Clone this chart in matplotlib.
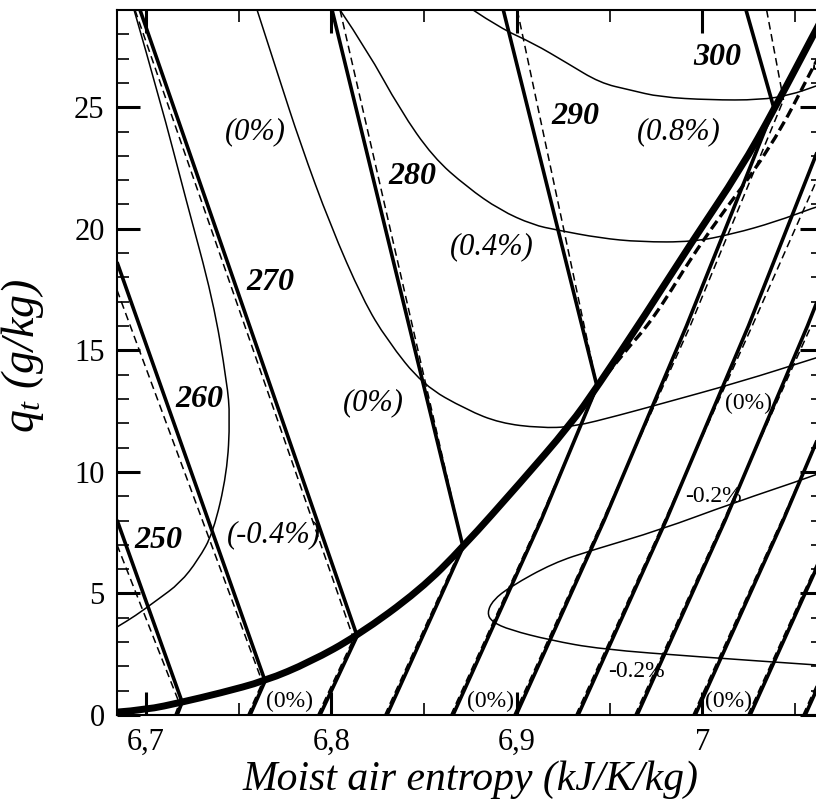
import numpy as np
import matplotlib.pyplot as plt
from matplotlib.path import Path
from matplotlib.patches import PathPatch
from matplotlib.ticker import MultipleLocator, FuncFormatter

plt.rcParams['font.family'] = ['Liberation Serif', 'DejaVu Serif']
plt.rcParams['mathtext.fontset'] = 'custom'
plt.rcParams['mathtext.it'] = 'Liberation Serif:italic'
plt.rcParams['mathtext.rm'] = 'Liberation Serif'

# saturation curve: moist air entropy (kJ/K/kg) vs q_t (g/kg)
sat_s = [6.6845, 6.7000, 6.7196, 6.7400, 6.7643, 6.7885, 6.8139, 6.8478, 6.8710,
         6.9017, 6.9287, 6.9432, 6.9691, 6.9950, 7.0203, 7.0391, 7.0612, 7.0650]
sat_q = [0.12, 0.21, 0.53, 0.90, 1.40, 2.18, 3.25, 5.14, 6.91,
         9.54, 11.93, 13.49, 16.45, 19.54, 22.42, 24.97, 28.18, 28.71]

# approximate saturation curve (thick dashed)
sat2_s = [6.9432, 6.9575, 6.9738, 6.9995, 7.0370, 7.0620, 7.0680]
sat2_q = [13.5, 14.9, 16.3, 19.5, 23.3, 27.0, 27.8]

# isotherms (K), unsaturated part: [top point, point on saturation curve]
iso_T = [250, 260, 270, 280, 290, 300]
unsat_s = [[6.6845, 6.7196], [6.6845, 6.7643], [6.6969, 6.8139],
           [6.8004, 6.8710], [6.8927, 6.9432], [7.0235, 7.0385]]
unsat_q = [[8.02, 0.53], [18.63, 1.40], [29.0, 3.25],
           [29.0, 6.91], [29.0, 13.52], [29.0, 24.97]]
# approximated isotherms (thin dashed)
unsat2_s = [[6.6845, 6.7174], [6.6845, 6.7627], [6.6942, 6.8117],
            [6.8047, 6.8710], [6.9002, 6.9432], [7.0346, 7.0437]]
unsat2_q = [[7.0, 0.62], [17.48, 1.38], [29.0, 3.20],
            [29.0, 6.91], [29.0, 13.52], [29.0, 25.3]]

# saturated part of the isotherms, 250 ... 350 K
satline_s = [[6.7169, 6.7196], [6.7562, 6.7643], [6.7939, 6.8139], [6.8300, 6.8710],
             [6.8656, 6.9130, 6.9432], [6.8996, 6.9470, 6.9914, 7.0385],
             [6.9330, 6.9804, 7.0248, 7.0662], [6.9648, 7.0122, 7.0566, 7.0980],
             [6.9961, 7.0435, 7.0879], [7.0257, 7.0731], [7.0554, 7.1028]]
satline_q = [[0, 0.53], [0, 1.40], [0, 3.25], [0, 6.91],
             [0, 8, 13.52], [0, 8, 16, 24.97],
             [0, 8, 16, 24], [0, 8, 16, 24],
             [0, 8, 16], [0, 8], [0, 8]]
satline2_s = [[6.7157, 6.7184], [6.7550, 6.7632], [6.7927, 6.8127], [6.8288, 6.8702],
              [6.8644, 6.9122, 6.9437], [6.8984, 6.9462, 6.9934, 7.0437],
              [6.9318, 6.9796, 7.0268, 7.0732], [6.9636, 7.0114, 7.0586],
              [6.9949, 7.0427, 7.0899], [7.0245, 7.0723], [7.0542, 7.1020]]
satline2_q = [[0, 0.53], [0, 1.40], [0, 3.25], [0, 6.91],
              [0, 8, 13.52], [0, 8, 16, 25.3],
              [0, 8, 16, 24], [0, 8, 16],
              [0, 8, 16], [0, 8], [0, 8]]

# relative error contours (thin lines)
cA_s = [6.6937, 6.7077, 6.7217, 6.7363, 6.7438, 6.7454, 6.7438, 6.7363, 6.7282,
        6.7185, 6.7061, 6.6942, 6.6845]
cA_q = [29.0, 25.30, 21.19, 17.07, 13.66, 12.26, 9.95, 7.49, 6.38,
        5.43, 4.73, 4.07, 3.62]
cB_s = [6.7600, 6.7713, 6.7832, 6.7994, 6.8171, 6.8300, 6.8494, 6.8731, 6.8909,
        6.9124, 6.9302, 6.9556, 6.9771, 7.0203, 7.0612, 7.0650]
cB_q = [29.0, 26.33, 23.53, 20.16, 17.07, 15.43, 13.57, 12.55, 12.01,
        11.81, 11.85, 12.34, 12.79, 13.70, 14.69, 14.78]
cC_s = [6.8047, 6.8193, 6.8371, 6.8548, 6.8731, 6.8909, 6.9087, 6.9216, 6.9448,
        6.9664, 6.9949, 7.0165, 7.0391, 7.0612, 7.0650]
cC_q = [29.0, 27.35, 24.89, 22.95, 21.72, 20.77, 20.16, 19.95, 19.62,
        19.46, 19.46, 19.79, 20.28, 20.90, 20.97]
cD_s = [6.8764, 6.8909, 6.9087, 6.9270, 6.9448, 6.9610, 6.9771, 7.0041, 7.0310,
        7.0472, 7.0612, 7.0650]
cD_q = [29.0, 28.26, 27.64, 26.82, 26.0, 25.71, 25.42, 25.30, 25.30,
        25.50, 25.87, 25.98]
cE_s = [7.0650, 7.0612, 7.0165, 6.9771, 6.9410, 6.9195, 6.8963, 6.8872, 6.8839,
        6.8866, 6.8963, 6.9179, 6.9448, 6.9987, 7.0612, 7.0650]
cE_q = [10.0, 9.87, 8.72, 7.61, 6.79, 6.25, 5.27, 4.73, 4.20,
        3.83, 3.50, 3.08, 2.71, 2.39, 2.06, 2.04]

# labels
T_lab = ['250', '260', '270', '280', '290', '300', '310']
T_lab_s = [6.7067, 6.7288, 6.7670, 6.8435, 6.9314, 7.0081, 7.0722]
T_lab_q = [7.16, 12.96, 17.8, 22.17, 24.6, 27.03, 26.85]
big_lab = ['(0%)', '(-0.4%)', '(0.4%)', '(0%)', '(0.8%)']
big_lab_s = [6.7590, 6.7693, 6.8867, 6.8226, 6.9874]
big_lab_q = [23.98, 7.4, 19.25, 12.83, 24.0]
small_lab = ['(0%)', '-0.2%', '-0.2%', '(0%)', '(0%)', '(0%)']
small_lab_s = [7.0246, 7.0058, 6.9642, 6.7774, 6.8856, 7.0139]
small_lab_q = [12.83, 8.97, 1.77, 0.55, 0.55, 0.55]


def smooth_line(ax, s, q, **kw):
    # quadratic bezier through the segment midpoints, just to round the corners
    pts = np.column_stack([s, q])
    verts = [pts[0]]
    codes = [Path.MOVETO]
    for i in range(1, len(pts) - 1):
        verts += [pts[i], (pts[i] + pts[i + 1]) / 2]
        codes += [Path.CURVE3, Path.CURVE3]
    verts.append(pts[-1])
    codes.append(Path.LINETO)
    ax.add_patch(PathPatch(Path(verts, codes), fill=False, edgecolor='black',
                           capstyle='butt', joinstyle='round', **kw))


fig = plt.figure(figsize=(8.16, 8.07), dpi=100)
ax = fig.add_axes([0.1434, 0.1140, 0.8652, 0.8736])

for cs, cq in [(cA_s, cA_q), (cB_s, cB_q), (cC_s, cC_q), (cD_s, cD_q), (cE_s, cE_q)]:
    smooth_line(ax, cs, cq, lw=1.1)

dash = dict(color='black', lw=1.1, dashes=(5, 3))
for s, q in zip(unsat2_s, unsat2_q):
    ax.plot(s, q, **dash)
for s, q in zip(satline2_s, satline2_q):
    ax.plot(s, q, **dash)

for s, q in zip(unsat_s, unsat_q):
    ax.plot(s, q, color='black', lw=2.6, solid_capstyle='butt')
for s, q in zip(satline_s, satline_q):
    ax.plot(s, q, color='black', lw=2.6, solid_capstyle='butt')

smooth_line(ax, sat2_s, sat2_q, lw=2.4, linestyle=(0, (3, 1.5)))
smooth_line(ax, sat_s, sat_q, lw=5.0)

for t, s, q in zip(T_lab, T_lab_s, T_lab_q):
    ax.text(s, q, t, fontsize=23, fontweight='bold', fontstyle='italic',
            ha='center', va='center')
for t, s, q in zip(big_lab, big_lab_s, big_lab_q):
    ax.text(s, q, t, fontsize=22, fontstyle='italic', ha='center', va='center')
for t, s, q in zip(small_lab, small_lab_s, small_lab_q):
    ax.text(s, q, t, fontsize=17, ha='center', va='center')

ax.set_xlim(6.6845, 7.065)
ax.set_ylim(0, 29.0)
ax.set_xticks([6.7, 6.8, 6.9, 7.0])
ax.xaxis.set_major_formatter(FuncFormatter(lambda v, p: ('%g' % v).replace('.', ',')))
ax.xaxis.set_minor_locator(MultipleLocator(0.05))
ax.yaxis.set_major_locator(MultipleLocator(5))
ax.yaxis.set_minor_locator(MultipleLocator(1))
ax.tick_params(which='major', direction='in', length=16.5, width=2.2,
               top=True, right=True, labelsize=22, pad=9)
ax.tick_params(which='minor', direction='in', length=8.5, width=1.2,
               top=True, right=True)
for sp in ax.spines.values():
    sp.set_linewidth(1.5)

ax.set_xlabel('Moist air entropy (kJ/K/kg)', fontsize=30, fontstyle='italic')
ax.xaxis.set_label_coords(0.5, -0.064)
ax.set_ylabel(r'$q_t$ (g/kg)', fontsize=33, fontstyle='italic')
ax.yaxis.set_label_coords(-0.1, 0.51)

fig.savefig('out.png', dpi=100)
